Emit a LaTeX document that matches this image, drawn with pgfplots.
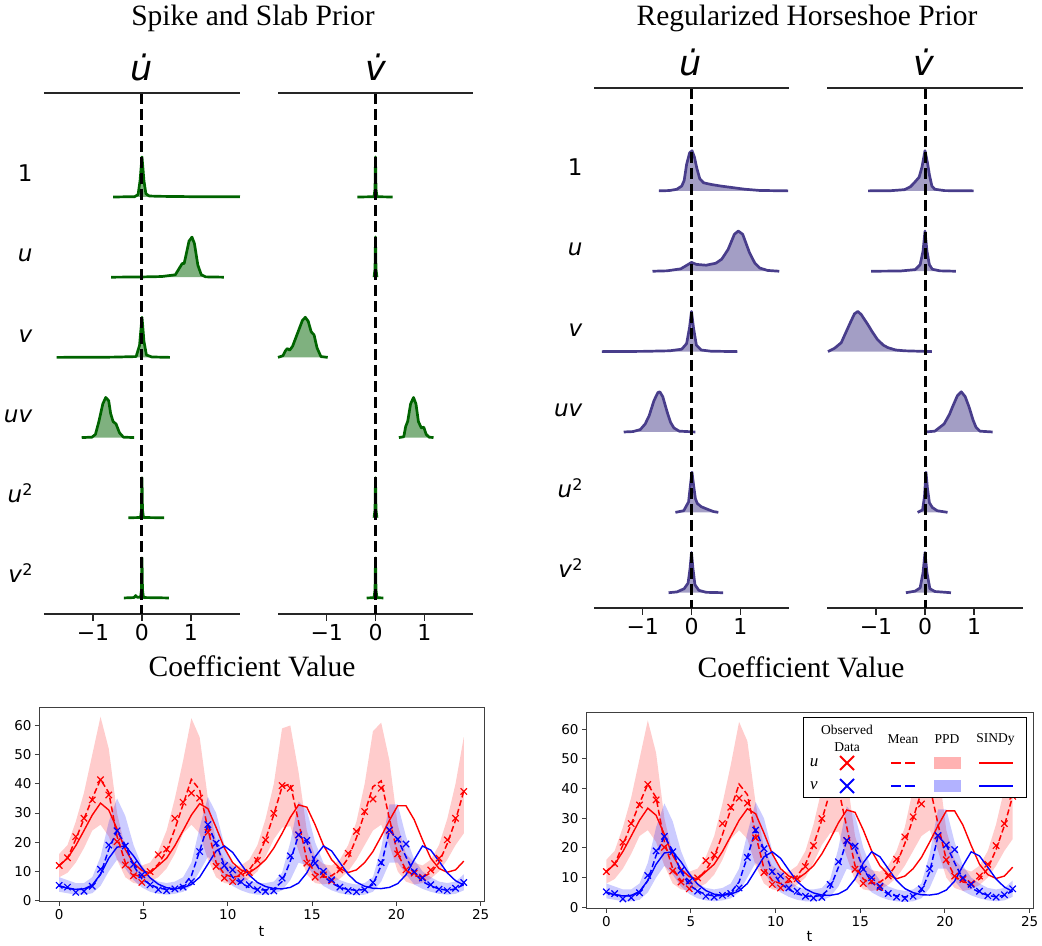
\documentclass[border=0pt]{standalone}
\usepackage{fontspec}
\setmainfont{Liberation Serif}
\newfontfamily\dejavu{DejaVu Sans}[ItalicFont={DejaVu Sans Oblique}]
\usepackage{pgfplots}
\pgfplotsset{compat=1.18}
\usepackage{pgfplotstable}
\usepgfplotslibrary{fillbetween}
\definecolor{dgreen}{HTML}{006400}
\definecolor{dslate}{HTML}{483D8B}

\pgfplotstableread{
t u v mu mv ulo uhi vlo vhi su sv
0.00 12.0 5.2 12.0 5.0 8.0 16.0 3.0 8.0 12.0 5.0
0.49 14.7 4.6 14.5 4.3 9.5 19.0 2.5 7.0 14.5 4.2
0.98 21.9 2.8 21.0 3.8 13.0 27.0 2.0 6.0 18.8 3.8
1.47 28.2 3.2 28.0 3.8 18.0 37.0 2.0 6.0 24.0 4.0
1.96 34.5 4.9 35.0 5.0 24.0 50.0 2.5 8.0 29.3 5.3
2.45 41.4 10.7 41.5 9.0 26.0 63.0 5.0 15.0 33.4 9.0
2.94 36.2 19.0 37.0 17.5 22.0 52.0 10.0 27.0 31.0 14.5
3.43 20.2 23.9 22.0 24.0 14.0 30.0 14.0 35.0 24.5 18.3
3.92 12.2 18.7 13.0 19.0 8.0 18.0 11.0 29.0 17.5 18.7
4.41 8.5 12.4 9.0 12.0 6.0 13.0 7.0 19.0 12.8 15.3
4.90 6.2 8.8 8.0 7.5 5.5 12.0 4.5 12.0 10.3 11.2
5.39 9.9 5.4 9.5 5.5 6.5 13.0 3.0 8.0 9.5 7.8
5.88 15.7 3.7 12.5 4.3 8.0 17.0 2.3 6.5 12.0 5.6
6.37 17.6 3.4 17.0 3.8 11.0 24.0 2.0 6.0 14.5 4.4
6.86 28.2 4.0 24.5 4.0 16.0 35.0 2.3 6.5 18.8 4.0
7.35 33.7 4.6 33.0 5.0 23.0 48.0 3.0 8.0 24.0 4.4
7.84 36.8 6.5 41.5 8.5 26.0 62.5 5.0 13.0 29.3 5.5
8.33 35.1 16.8 38.0 17.0 23.0 56.0 10.0 25.0 33.2 8.0
8.82 23.4 26.0 24.5 26.0 14.0 35.0 15.0 35.5 31.5 12.5
9.31 11.7 19.7 13.0 19.5 8.0 20.0 12.0 30.0 25.0 17.0
9.80 7.7 12.0 9.0 12.0 6.0 14.0 7.5 19.0 18.0 18.7
10.29 6.5 10.5 8.0 8.0 5.5 12.0 5.0 12.5 13.0 16.5
10.78 9.4 6.5 8.5 6.0 6.0 12.0 3.5 9.0 10.5 12.5
11.27 9.6 5.4 10.5 4.5 7.5 14.0 2.5 7.0 9.5 8.7
11.76 13.7 3.7 14.5 3.8 10.0 19.0 2.0 6.0 11.5 6.2
12.24 20.8 3.1 21.0 3.6 15.0 28.0 2.0 6.0 14.0 4.8
12.73 29.9 3.3 29.5 4.0 21.0 40.0 2.3 6.5 18.0 4.1
13.22 39.4 7.7 39.0 6.5 25.0 59.0 3.5 9.5 23.0 4.0
13.71 38.5 15.3 40.0 13.5 25.5 60.0 7.0 20.0 28.5 4.5
14.20 22.5 22.5 27.0 22.5 17.0 44.0 13.0 34.0 32.8 6.0
14.69 12.8 20.6 14.0 20.0 9.0 24.0 12.0 31.0 32.0 9.5
15.18 8.0 12.8 9.5 13.0 6.0 15.0 8.0 20.0 26.0 15.0
15.67 8.8 10.0 8.0 8.5 5.5 12.5 5.0 13.0 19.0 18.7
16.16 6.7 7.1 8.5 6.0 6.0 12.0 3.5 9.0 14.0 17.0
16.65 10.5 4.6 10.5 4.5 7.5 14.0 2.5 7.0 11.0 13.0
17.14 16.2 3.4 14.5 3.8 10.0 19.0 2.0 6.0 9.6 9.0
17.63 23.7 3.0 21.5 3.5 14.0 27.0 1.8 5.5 10.5 6.3
18.12 30.5 3.7 30.0 3.8 19.0 40.0 2.0 6.0 13.0 4.9
18.61 34.8 6.2 39.0 5.5 24.0 58.0 3.0 8.0 16.8 4.2
19.10 38.5 13.0 41.0 12.0 26.0 61.0 6.5 18.0 22.0 4.1
19.59 24.0 24.2 28.0 24.0 19.0 48.0 13.0 33.0 27.5 4.5
20.08 16.0 21.0 16.0 21.0 10.0 26.0 13.0 33.0 32.5 5.8
20.57 10.5 19.4 10.5 15.0 6.5 16.0 9.0 22.0 32.5 8.8
21.06 9.4 9.9 8.5 9.5 5.5 13.0 5.5 14.0 27.7 14.0
21.55 8.0 7.7 8.0 6.5 6.0 12.0 4.0 10.0 20.8 18.7
22.04 10.5 5.4 9.5 5.0 7.5 14.0 3.0 8.0 14.5 17.3
22.53 14.5 3.9 13.0 4.0 10.0 19.0 2.3 6.5 11.0 13.5
23.02 20.8 3.4 19.5 3.5 14.0 28.0 2.0 6.0 9.7 9.5
23.51 28.2 4.2 27.5 4.0 19.0 40.0 2.3 6.5 10.5 6.8
24.00 37.4 6.2 37.5 5.5 23.0 56.0 3.5 9.0 13.5 5.3
}\lvdata

\newcommand\rlfont{\dejavu\fontsize{23}{23}\selectfont}
\newcommand\sqr{\raisebox{7pt}{\fontsize{16}{16}\selectfont 2}}
\newcommand\rowlabels{%
  \node[anchor=base east,font=\rlfont] at ([xshift=-8pt]axis cs:-2,0.19) {1};
  \node[anchor=base east,font=\rlfont] at ([xshift=-8pt]axis cs:-2,-0.81) {\textit{u}};
  \node[anchor=base east,font=\rlfont] at ([xshift=-8pt]axis cs:-2,-1.81) {\textit{v}};
  \node[anchor=base east,font=\rlfont] at ([xshift=-8pt]axis cs:-2,-2.81) {\textit{uv}};
  \node[anchor=base east,font=\rlfont] at ([xshift=-8pt]axis cs:-2,-3.81) {\textit{u}\sqr};
  \node[anchor=base east,font=\rlfont] at ([xshift=-8pt]axis cs:-2,-4.81) {\textit{v}\sqr};
}

\pgfplotsset{
  ridge/.style={
    scale only axis, width=196pt, height=521pt,
    xmin=-2, xmax=2, ymin=-5.2, ymax=1.297,
    axis x line*=bottom, axis y line=none,
    xtick={-1,0,1}, xticklabels={−1,0,1},
    ytick=\empty,
    tick align=outside, major tick length=7pt,
    x axis line style={line width=1.3pt, black!85, -},
    xtick style={line width=1.3pt, black!85},
    xticklabel style={font=\dejavu\fontsize{22}{22}\selectfont},
    clip=false,
  },
  row/.style={y filter/.expression={y-#1}},
  gr/.style={draw=dgreen, fill=dgreen, fill opacity=0.5, line width=2.7pt, line join=round},
  pu/.style={draw=dslate, fill=dslate, fill opacity=0.5, line width=2.7pt, line join=round},
  ts/.style={
    scale only axis, xmin=-1.2, xmax=25.2,
    xtick={0,5,...,25}, ytick={0,10,...,60},
    tick pos=left, tick align=outside, major tick length=4pt,
    axis line style={line width=1pt, black!75},
    tick style={line width=1pt, black!75},
    ticklabel style={font=\dejavu\fontsize{13.5}{13.5}\selectfont},
    /pgf/number format/assume math mode=true,
    xlabel={t},
    xlabel style={font=\dejavu\fontsize{14.5}{14.5}\selectfont, at={(axis description cs:0.5,0)}, anchor=base},
  },
}
\newcommand\zeroline[2]{\draw[black, line width=3pt, dash pattern=on 11pt off 5pt] (axis cs:0,#1) -- (axis cs:0,#2);
  \draw[line width=1.3pt, black!85] (rel axis cs:0,1) -- (rel axis cs:1,1);}

\newcommand\tsplots{%
  \addplot[name path=uhi, draw=none, forget plot] table[x=t,y=uhi]{\lvdata};
  \addplot[name path=ulo, draw=none, forget plot] table[x=t,y=ulo]{\lvdata};
  \addplot[red, fill opacity=0.2, draw=none] fill between[of=uhi and ulo];
  \addplot[name path=vhi, draw=none, forget plot] table[x=t,y=vhi]{\lvdata};
  \addplot[name path=vlo, draw=none, forget plot] table[x=t,y=vlo]{\lvdata};
  \addplot[blue, fill opacity=0.2, draw=none] fill between[of=vhi and vlo];
  \addplot[red, line width=1.4pt] table[x=t,y=su]{\lvdata};
  \addplot[blue, line width=1.4pt] table[x=t,y=sv]{\lvdata};
  \addplot[red, line width=1.5pt, dash pattern=on 6pt off 3pt] table[x=t,y=mu]{\lvdata};
  \addplot[blue, line width=1.5pt, dash pattern=on 6pt off 3pt] table[x=t,y=mv]{\lvdata};
  \addplot[red, only marks, mark=x, mark size=4.5pt, mark options={line width=1.2pt}] table[x=t,y=u]{\lvdata};
  \addplot[blue, only marks, mark=x, mark size=4.5pt, mark options={line width=1.2pt}] table[x=t,y=v]{\lvdata};
}

\begin{document}
\begin{tikzpicture}
\path (0pt,0pt) rectangle (1042pt,943pt);

% ---------- titles ----------
\node[anchor=base, font=\fontsize{29.5}{30}\selectfont] at (253pt,917pt) {Spike and Slab Prior};
\node[anchor=base, font=\fontsize{29.5}{30}\selectfont] at (807pt,917pt) {Regularized Horseshoe Prior};
\node[anchor=base, font=\fontsize{29.5}{30}\selectfont] at (252pt,266pt) {Coefficient Value};
\node[anchor=base, font=\fontsize{29.5}{30}\selectfont] at (801pt,265pt) {Coefficient Value};
\node[anchor=base, font=\dejavu\itshape\fontsize{35}{35}\selectfont] at (142pt,862pt) {u̇};
\node[anchor=base, font=\dejavu\itshape\fontsize{35}{35}\selectfont] at (376pt,862pt) {v̇};
\node[anchor=base, font=\dejavu\itshape\fontsize{35}{35}\selectfont] at (691pt,867pt) {u̇};
\node[anchor=base, font=\dejavu\itshape\fontsize{35}{35}\selectfont] at (924pt,867pt) {v̇};

% ---------- Spike and slab, u dot ----------
\begin{axis}[ridge, at={(44pt,329pt)}, anchor=south west]
\addplot[gr] coordinates {(-0.59,0)(-0.15,0.004)(-0.08,0.03)(-0.04,0.2)(0,0.5)(0.04,0.2)(0.08,0.04)(0.15,0.012)(0.4,0.008)(1,0.004)(2,0.002)};
\addplot[gr,row=1] coordinates {(-0.63,0)(0,0.003)(0.4,0.008)(0.68,0.03)(0.78,0.13)(0.82,0.17)(0.86,0.17)(0.9,0.28)(0.96,0.45)(1.02,0.5)(1.07,0.42)(1.14,0.15)(1.21,0.03)(1.3,0.004)(1.67,0)};
\addplot[gr,row=2] coordinates {(-1.74,0)(-0.6,0.003)(-0.12,0.01)(-0.05,0.15)(0,0.5)(0.04,0.2)(0.09,0.03)(0.2,0.005)(0.57,0)};
\addplot[gr,row=3] coordinates {(-1.23,0)(-1.02,0.005)(-0.95,0.04)(-0.88,0.2)(-0.8,0.42)(-0.74,0.5)(-0.68,0.46)(-0.64,0.3)(-0.59,0.2)(-0.53,0.17)(-0.46,0.06)(-0.38,0.005)(-0.16,0)};
\addplot[gr,row=4] coordinates {(-0.28,0)(-0.03,0.003)(-0.01,0.1)(0,0.5)(0.01,0.1)(0.03,0.003)(0.45,0)};
\addplot[gr,row=5] coordinates {(-0.37,0)(-0.16,0.005)(-0.13,0.03)(-0.1,0.01)(-0.03,0.008)(-0.01,0.1)(0,0.5)(0.01,0.1)(0.03,0.005)(0.55,0)};
\zeroline{1.297}{-5.2}
\rowlabels
\end{axis}

% ---------- Spike and slab, v dot ----------
\begin{axis}[ridge, width=195pt, at={(278pt,329pt)}, anchor=south west]
\addplot[gr] coordinates {(-0.37,0)(-0.03,0.003)(-0.01,0.1)(0,0.5)(0.01,0.1)(0.03,0.003)(0.35,0)};
\addplot[gr,row=1] coordinates {(-0.03,0)(-0.01,0.1)(0,0.5)(0.01,0.1)(0.03,0)};
\addplot[gr,row=2] coordinates {(-2.0,0)(-1.9,0.02)(-1.85,0.08)(-1.81,0.11)(-1.76,0.09)(-1.7,0.14)(-1.6,0.3)(-1.5,0.46)(-1.44,0.5)(-1.38,0.45)(-1.32,0.32)(-1.26,0.28)(-1.2,0.12)(-1.12,0.01)(-0.98,0)};
\addplot[gr,row=3] coordinates {(0.48,0)(0.58,0.01)(0.62,0.14)(0.66,0.2)(0.72,0.42)(0.78,0.5)(0.83,0.42)(0.88,0.2)(0.94,0.12)(0.99,0.13)(1.04,0.04)(1.1,0.005)(1.19,0)};
\addplot[gr,row=4] coordinates {(-0.03,0)(-0.01,0.1)(0,0.5)(0.01,0.1)(0.03,0)};
\addplot[gr,row=5] coordinates {(-0.18,0)(-0.03,0.003)(-0.01,0.1)(0,0.5)(0.01,0.1)(0.03,0.003)(0.16,0)};
\zeroline{1.297}{-5.2}
\end{axis}

% ---------- Horseshoe, u dot ----------
\begin{axis}[ridge, width=195pt, height=520pt, ymin=-5.19, ymax=1.28, at={(594pt,335pt)}, anchor=south west]
\addplot[pu] coordinates {(-0.67,0)(-0.45,0.004)(-0.3,0.02)(-0.2,0.06)(-0.15,0.13)(-0.1,0.33)(-0.04,0.47)(0.01,0.5)(0.06,0.42)(0.11,0.28)(0.17,0.15)(0.25,0.1)(0.4,0.08)(0.6,0.06)(0.85,0.04)(1.1,0.02)(1.4,0.005)(1.98,0)};
\addplot[pu,row=1] coordinates {(-0.8,0)(-0.5,0.005)(-0.22,0.03)(-0.08,0.08)(0,0.11)(0.1,0.085)(0.3,0.075)(0.5,0.1)(0.62,0.15)(0.75,0.27)(0.88,0.46)(0.96,0.5)(1.05,0.46)(1.19,0.23)(1.3,0.1)(1.4,0.04)(1.56,0.01)(1.8,0)};
\addplot[pu,row=2] coordinates {(-1.84,0)(-1,0.003)(-0.45,0.01)(-0.2,0.03)(-0.1,0.1)(-0.04,0.3)(0,0.5)(0.04,0.3)(0.1,0.08)(0.2,0.02)(0.4,0.005)(0.94,0)};
\addplot[pu,row=3] coordinates {(-1.39,0)(-1.2,0.005)(-1.05,0.03)(-0.95,0.1)(-0.87,0.2)(-0.77,0.39)(-0.69,0.49)(-0.65,0.5)(-0.59,0.44)(-0.5,0.25)(-0.43,0.12)(-0.36,0.05)(-0.25,0.01)(0.08,0)};
\addplot[pu,row=4] coordinates {(-0.33,0)(-0.16,0.02)(-0.06,0.13)(-0.02,0.35)(0.01,0.5)(0.04,0.35)(0.08,0.17)(0.12,0.11)(0.2,0.07)(0.32,0.04)(0.45,0.01)(0.55,0)};
\addplot[pu,row=5] coordinates {(-0.47,0)(-0.3,0.01)(-0.15,0.05)(-0.07,0.12)(-0.03,0.3)(0,0.5)(0.03,0.3)(0.07,0.1)(0.15,0.03)(0.3,0.005)(0.65,0)};
\zeroline{1.28}{-5.19}
\rowlabels
\end{axis}

% ---------- Horseshoe, v dot ----------
\begin{axis}[ridge, width=196pt, height=520pt, ymin=-5.19, ymax=1.28, at={(827pt,335pt)}, anchor=south west]
\addplot[pu] coordinates {(-1.16,0)(-0.7,0.002)(-0.42,0.015)(-0.3,0.05)(-0.22,0.1)(-0.12,0.17)(-0.06,0.3)(0,0.5)(0.05,0.35)(0.09,0.2)(0.14,0.06)(0.2,0.02)(0.4,0.003)(0.99,0)};
\addplot[pu,row=1] coordinates {(-1.1,0)(-0.5,0.003)(-0.2,0.02)(-0.1,0.08)(-0.04,0.25)(0,0.5)(0.04,0.25)(0.09,0.08)(0.15,0.025)(0.3,0.005)(0.63,0)};
\addplot[pu,row=2] coordinates {(-1.98,0)(-1.85,0.04)(-1.71,0.11)(-1.54,0.34)(-1.44,0.47)(-1.37,0.5)(-1.3,0.46)(-1.17,0.34)(-1.07,0.24)(-0.97,0.15)(-0.85,0.08)(-0.76,0.05)(-0.6,0.02)(-0.42,0.01)(0.14,0)};
\addplot[pu,row=3] coordinates {(0,0)(0.2,0.01)(0.39,0.1)(0.5,0.22)(0.56,0.31)(0.66,0.45)(0.74,0.5)(0.82,0.44)(0.9,0.31)(0.98,0.15)(1.04,0.06)(1.12,0.01)(1.38,0)};
\addplot[pu,row=4] coordinates {(-0.15,0)(-0.05,0.03)(-0.01,0.2)(0.02,0.5)(0.05,0.3)(0.09,0.12)(0.15,0.06)(0.25,0.02)(0.46,0)};
\addplot[pu,row=5] coordinates {(-0.39,0)(-0.2,0.02)(-0.1,0.06)(-0.04,0.25)(0,0.5)(0.04,0.25)(0.1,0.05)(0.2,0.015)(0.53,0)};
\zeroline{1.28}{-5.19}
\end{axis}

% ---------- time series, left ----------
\begin{axis}[ts, width=445pt, height=194pt, ymin=-0.5, ymax=66, at={(39pt,41pt)}, anchor=south west,
  xlabel style={yshift=-35pt}]
\tsplots
\end{axis}

% ---------- time series, right ----------
\begin{axis}[ts, width=447pt, height=196pt, ymin=-0.6, ymax=65.5, at={(586pt,34pt)}, anchor=south west,
  xlabel style={yshift=-33pt}]
\tsplots
\end{axis}

% ---------- legend (right panel) ----------
\draw[black, line width=1pt, fill=white] (803pt,145pt) rectangle (1026pt,225pt);
\begin{scope}[every node/.style={font=\fontsize{13.5}{14}\selectfont, inner sep=0pt}]
\node at (847pt,213pt) {Observed};
\node at (847pt,196pt) {Data};
\node at (903pt,204pt) {Mean};
\node at (947pt,204pt) {PPD};
\node at (995.5pt,204pt) {SINDy};
\node[font=\fontsize{17}{17}\selectfont\itshape] at (814pt,180pt) {u};
\node[font=\fontsize{17}{17}\selectfont\itshape] at (814pt,157pt) {v};
\end{scope}
\draw[red, line width=1.8pt] (840pt,173pt) -- (854pt,187pt) (840pt,187pt) -- (854pt,173pt);
\draw[blue, line width=1.8pt] (840pt,150pt) -- (854pt,164pt) (840pt,164pt) -- (854pt,150pt);
\draw[red, line width=2pt, dash pattern=on 10pt off 4pt] (891pt,180pt) -- (915pt,180pt);
\draw[blue, line width=2pt, dash pattern=on 10pt off 4pt] (891pt,157pt) -- (915pt,157pt);
\fill[red, opacity=0.3] (934pt,174pt) rectangle (961pt,186pt);
\fill[blue, opacity=0.3] (934pt,151pt) rectangle (961pt,163pt);
\draw[red, line width=2.5pt] (979pt,180pt) -- (1013pt,180pt);
\draw[blue, line width=2.5pt] (979pt,157pt) -- (1013pt,157pt);
\end{tikzpicture}
\end{document}
